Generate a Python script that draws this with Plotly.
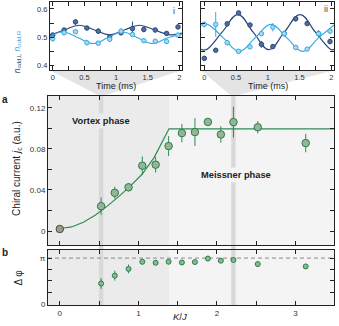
import math
import plotly.graph_objects as go

W, H = 339, 326
def px(x): return x / W
def py(y): return 1 - y / H

FONT = "Liberation Sans"
GREEN = "#2f8a55"
DARK = "#2a4a7b"
LIGHT = "#3ba8e0"

# ---------------- data: panel a / b ----------------
kj = [0, 0.526, 0.70, 0.875, 1.05, 1.22, 1.385, 1.554, 1.72, 1.885, 2.05, 2.21, 2.52, 3.13]
jc = [0.002, 0.0242, 0.0372, 0.0426, 0.0636, 0.0646, 0.0827, 0.0953, 0.0963, 0.1062, 0.094, 0.106, 0.101, 0.0856]
jc_err = [0, 0.0084, 0.006, 0.004, 0.009, 0.0077, 0.0097, 0.009, 0.0135, 0.002, 0.008, 0.015, 0.006, 0.009]

fit_kj = [0, 0.15, 0.3, 0.45, 0.6, 0.75, 0.9, 1.05, 1.2, 1.39, 3.5]
fit_jc = [0.0025, 0.004, 0.0085, 0.0155, 0.024, 0.0335, 0.044, 0.0555, 0.0715, 0.0995, 0.0995]

kj_b = [0.526, 0.70, 0.875, 1.05, 1.22, 1.385, 1.554, 1.72, 1.885, 2.05, 2.21, 2.52, 3.13]
dphi = [1.40, 1.94, 2.40, 2.89, 2.82, 2.89, 2.84, 2.87, 3.11, 2.96, 3.01, 2.73, 2.57]
dphi_err = [0.37, 0.34, 0.3, 0.2, 0.12, 0.12, 0.12, 0.12, 0.12, 0.12, 0.12, 0.2, 0.12]

# ---------------- data: insets ----------------
t = [0, 0.18, 0.36, 0.54, 0.72, 0.9, 1.08, 1.26, 1.44, 1.62, 1.8, 1.98]
i_L = [0.507, 0.525, 0.554, 0.532, 0.521, 0.500, 0.515, 0.530, 0.527, 0.525, 0.513, 0.536]
i_L_err = [0.005, 0.006, 0.01, 0.004, 0.01, 0.006, 0.006, 0.025, 0.01, 0.008, 0.005, 0.008]
i_R = [0.494, 0.515, 0.519, 0.48, 0.478, 0.492, 0.521, 0.509, 0.487, 0.485, 0.484, 0.507]
i_R_err = [0.01, 0.005, 0.004, 0.01, 0.008, 0.008, 0.01, 0.005, 0.006, 0.005, 0.006, 0.008]
ii_L = [0.424, 0.453, 0.547, 0.586, 0.543, 0.474, 0.466, 0.512, 0.565, 0.548, 0.512, 0.484]
ii_L_err = [0.005, 0.006, 0.01, 0.008, 0.006, 0.012, 0.005, 0.006, 0.01, 0.008, 0.012, 0.01]
ii_R = [0.545, 0.545, 0.48, 0.449, 0.465, 0.512, 0.535, 0.512, 0.463, 0.457, 0.512, 0.521]
ii_R_err = [0.01, 0.044, 0.01, 0.005, 0.008, 0.006, 0.015, 0.006, 0.006, 0.006, 0.006, 0.01]

fit_i_L_t = [-0.04, 0.18, 0.42, 0.66, 0.9, 1.13, 1.37, 1.61, 1.85, 2.04]
fit_i_L = [0.506, 0.525, 0.542, 0.525, 0.508, 0.525, 0.542, 0.525, 0.508, 0.514]
fit_i_R_t = [-0.04, 0.16, 0.40, 0.64, 0.87, 1.10, 1.34, 1.58, 1.82, 2.04]
fit_i_R = [0.502, 0.518, 0.4975, 0.477, 0.4975, 0.518, 0.4975, 0.477, 0.4975, 0.51]
fit_ii_L_t = [-0.05, 0.03, 0.28, 0.53, 0.77, 1.02, 1.26, 1.51, 1.75, 2.0, 2.045]
fit_ii_L = [0.456, 0.455, 0.5175, 0.58, 0.5175, 0.455, 0.5175, 0.58, 0.5175, 0.455, 0.456]
fit_ii_R_t = [-0.05, 0.05, 0.30, 0.55, 0.80, 1.05, 1.30, 1.55, 1.80, 2.045]
fit_ii_R = [0.543, 0.545, 0.497, 0.449, 0.497, 0.545, 0.497, 0.449, 0.497, 0.543]

fig = go.Figure()

# panel a
fig.add_trace(go.Scatter(x=fit_kj, y=fit_jc, mode="lines", line=dict(color=GREEN, width=1.2),
                         xaxis="x", yaxis="y", hoverinfo="skip"))
fills = ["#9c9c8c"] + ["#93b695"] * (len(kj) - 1)
edges = ["#4d4d42"] + ["#2f7a4c"] * (len(kj) - 1)
fig.add_trace(go.Scatter(x=kj, y=jc, mode="markers", xaxis="x", yaxis="y",
                         error_y=dict(type="data", array=jc_err, color=GREEN, thickness=1, width=0),
                         marker=dict(size=7.5, color=fills, line=dict(color=edges, width=1))))
# panel b
fig.add_trace(go.Scatter(x=kj_b, y=dphi, mode="markers", xaxis="x2", yaxis="y2",
                         error_y=dict(type="data", array=dphi_err, color=GREEN, thickness=1, width=0),
                         marker=dict(size=5, color="#86bb92", line=dict(color="#2f7a4c", width=1))))

# insets
def inset(xa, ya, ft, fy, x, y, e, col, fill):
    fig.add_trace(go.Scatter(x=ft, y=fy, mode="lines", line=dict(color=col, width=1.2, shape="spline", smoothing=1.2),
                             xaxis=xa, yaxis=ya, hoverinfo="skip"))
    fig.add_trace(go.Scatter(x=x, y=y, mode="markers", xaxis=xa, yaxis=ya,
                             error_y=dict(type="data", array=e, color=col, thickness=1, width=0),
                             marker=dict(size=4.5, color=fill, line=dict(color=col, width=1))))

inset("x3", "y3", fit_i_L_t, fit_i_L, t, i_L, i_L_err, DARK, "#4f6e9c")
inset("x3", "y3", fit_i_R_t, fit_i_R, t, i_R, i_R_err, LIGHT, "#a6d8f2")
inset("x4", "y4", fit_ii_L_t, fit_ii_L, t, ii_L, ii_L_err, DARK, "#4f6e9c")
inset("x4", "y4", fit_ii_R_t, fit_ii_R, t, ii_R, ii_R_err, LIGHT, "#a6d8f2")

ax = dict(showline=True, linecolor="#222", linewidth=1, mirror="ticks", ticks="inside", ticklen=4,
          tickcolor="#222", tickwidth=1, showgrid=False, zeroline=False,
          tickfont=dict(family=FONT, size=8, color="#333"))

A_L, A_R = 48, 334
a_top, a_bot = 97, 248.3
b_top, b_bot = 252.7, 308.7
in_top, in_bot = 2, 71

PI = math.pi
fig.update_layout(
    width=W, height=H, margin=dict(l=0, r=0, t=0, b=0),
    paper_bgcolor="white", plot_bgcolor="rgba(0,0,0,0)", showlegend=False,
    font=dict(family=FONT, color="#222"),
    xaxis=dict(ax, domain=[px(A_L), px(A_R)], range=[-0.15, 3.49], anchor="y",
               tickvals=[0, 0.5, 1, 1.5, 2, 2.5, 3], showticklabels=False),
    yaxis=dict(ax, domain=[py(a_bot), py(a_top)], range=[-0.0138, 0.1316], anchor="x",
               tickvals=[0, 0.02, 0.04, 0.06, 0.08, 0.1, 0.12],
               ticktext=["0", "", "0.04", "", "0.08", "", "0.12"]),
    xaxis2=dict(ax, domain=[px(A_L), px(A_R)], range=[-0.15, 3.49], anchor="y2",
                tickvals=[0, 0.5, 1, 1.5, 2, 2.5, 3], ticktext=["0", "", "1", "", "2", "", "3"]),
    yaxis2=dict(ax, domain=[py(b_bot), py(b_top)], range=[-0.068, 3.723], anchor="x2",
                tickvals=[0, PI / 4, PI / 2, 3 * PI / 4, PI], ticktext=["0", "", "", "", "π"]),
    xaxis3=dict(ax, domain=[px(50), px(182)], range=[-0.043, 2.043], anchor="y3",
                tickvals=[0, 0.25, 0.5, 0.75, 1, 1.25, 1.5, 1.75, 2],
                ticktext=["0", "", "0.5", "", "1", "", "1.5", "", "2"]),
    yaxis3=dict(ax, domain=[py(in_bot), py(in_top)], range=[0.382, 0.625], anchor="x3",
                tickvals=[0.4, 0.45, 0.5, 0.55, 0.6], ticktext=["0.4", "", "0.5", "", "0.6"]),
    xaxis4=dict(ax, domain=[px(201), px(334)], range=[-0.052, 2.043], anchor="y4",
                tickvals=[0, 0.25, 0.5, 0.75, 1, 1.25, 1.5, 1.75, 2],
                ticktext=["0", "", "0.5", "", "1", "", "1.5", "", "2"]),
    yaxis4=dict(ax, domain=[py(in_bot), py(in_top)], range=[0.382, 0.625], anchor="x4",
                tickvals=[0.4, 0.45, 0.5, 0.55, 0.6], showticklabels=False),
)
for k in ["xaxis3", "xaxis4", "yaxis3"]:
    fig.layout[k].tickfont.size = 7.5

VORTEX_BG = "#ebebeb"
MEISS_BG = "#f4f4f4"
shapes = []
# panel backgrounds
for (t0, t1) in [(a_top, a_bot), (b_top, b_bot)]:
    shapes.append(dict(type="rect", xref="paper", yref="paper", x0=px(A_L), x1=px(A_R), y0=py(t1), y1=py(t0),
                       fillcolor=MEISS_BG, line=dict(width=0), layer="below"))
    shapes.append(dict(type="rect", xref="x", yref="paper", x0=-0.15, x1=1.39, y0=py(t1), y1=py(t0),
                       fillcolor=VORTEX_BG, line=dict(width=0), layer="below"))
# funnels
def funnel(xl, xr, bl, br):
    return dict(type="path", xref="paper", yref="paper", layer="below", fillcolor="#e4e4e4", line=dict(width=0),
                path=f"M {px(xl)} {py(in_bot)} L {px(xr)} {py(in_bot)} L {px(br)} {py(a_top)} L {px(bl)} {py(a_top)} Z")
shapes.append(funnel(50, 182, 99.3, 103.7))
shapes.append(funnel(201, 334, 231, 235.5))
# vertical bars
for xc in [0.526, 2.21]:
    shapes.append(dict(type="rect", xref="x", yref="paper", x0=xc - 0.028, x1=xc + 0.028,
                       y0=py(b_bot), y1=py(a_top), fillcolor="#d9d9d9", line=dict(width=0), layer="below"))
# dashed pi line
shapes.append(dict(type="line", xref="x2 domain", yref="y2", x0=0, x1=1, y0=PI, y1=PI,
                   line=dict(color="#8a8a8a", width=1, dash="4px,3px"), layer="below"))
fig.update_layout(shapes=shapes)

def ann(x, y, text, size, **kw):
    d = dict(xref="paper", yref="paper", x=px(x), y=py(y), text=text, showarrow=False,
             xanchor="center", yanchor="middle", font=dict(family=FONT, size=size, color=kw.pop("color", "#222")))
    d.update(kw)
    return d

anns = [
    ann(5, 101, "<b>a</b>", 10),
    ann(5, 256, "<b>b</b>", 10),
    ann(101, 123, "<b>Vortex phase</b>", 9.3, bgcolor=VORTEX_BG, borderpad=2),
    ann(235.5, 177, "<b>Meissner phase</b>", 9.3, bgcolor=MEISS_BG, borderpad=2),
    ann(17, 171, "Chiral current <i>j</i><sub>c</sub> (a.u.)", 10, textangle=-90),
    ann(19, 281, "Δ φ", 10, textangle=-90),
    ann(180, 320, "<i>K</i>/<i>J</i>", 9.5),
    ann(116, 87.5, "Time (ms)", 9),
    ann(267.5, 87.5, "Time (ms)", 9),
    ann(174, 11, "i", 9, color="#444"),
    ann(325.5, 9, "ii", 9, color="#444"),
    ann(17, 53, f"<span style='color:{DARK}'><i>n</i><sub>odd,L</sub></span> "
                f"<span style='color:{LIGHT}'><i>n</i><sub>odd,R</sub></span>", 8.5, textangle=-90),
]
fig.update_layout(annotations=anns)

fig.write_html("out.html", config={"displayModeBar": False},
               post_script="document.body.style.margin='0';document.body.style.overflow='hidden';")
